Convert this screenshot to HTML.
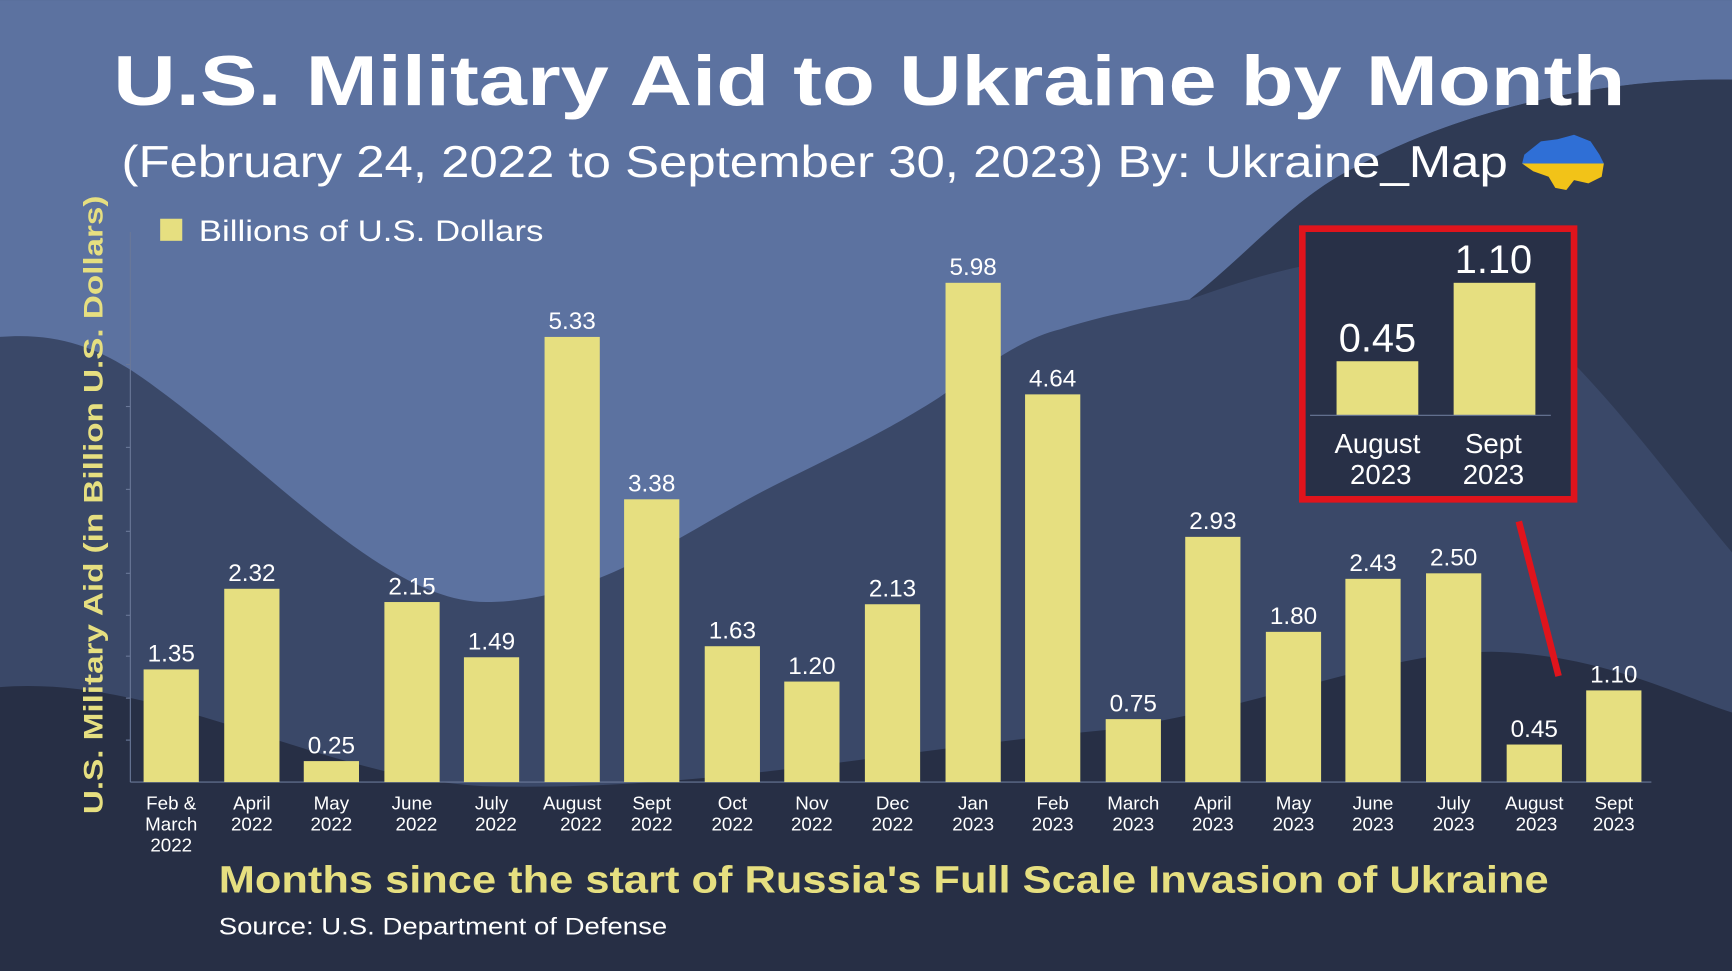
<!DOCTYPE html>
<html><head><meta charset="utf-8"><style>
html,body{margin:0;padding:0;background:#26304a;}
svg{display:block}
text{font-family:"Liberation Sans",sans-serif;}
</style></head><body>
<svg width="1732" height="971" viewBox="0 0 1568 879" xmlns="http://www.w3.org/2000/svg">
<rect width="1568" height="879" fill="#5c72a0"/>
<!-- mid layer -->
<path d="M0,305 C60,300 100,320 140,350 C250,430 350,545 440,545 C540,545 620,480 700,440 C760,410 800,392 850,360 C900,325 930,305 960,298 C1000,285 1040,278 1077,271 C1130,230 1170,180 1224,153 C1320,100 1450,70 1568,72 L1568,879 L0,879Z" fill="#3a4868"/>
<!-- top right dark -->
<path d="M1077,271 C1130,230 1170,180 1224,153 C1320,100 1450,70 1568,72 L1568,500 C1500,420 1420,300 1320,245 C1250,215 1150,245 1077,271Z" fill="#2f3a54"/>
<!-- bottom layer -->
<path d="M0,622 C150,610 300,710 450,712 C650,715 800,680 1000,661 C1150,640 1250,590 1350,590 C1450,592 1520,630 1568,645 L1568,879 L0,879Z" fill="#272f45"/>
<!-- title -->
<text x="787" y="95" text-anchor="middle" font-size="64" font-weight="bold" fill="#fff" textLength="1369" lengthAdjust="spacingAndGlyphs">U.S. Military Aid to Ukraine by Month</text>
<text x="110" y="160" font-size="40" fill="#fff" textLength="1255" lengthAdjust="spacingAndGlyphs">(February 24, 2022 to September 30, 2023)  By: Ukraine_Map</text>
<!-- flag -->
<path d="M1380,140 L1395,128 L1410,126 L1425,122 L1440,128 L1448,140 L1452,148 L1378,148Z" fill="#2f6fd6"/>
<path d="M1378,148 L1452,148 L1450,160 L1438,166 L1425,163 L1418,172 L1408,170 L1402,160 L1388,155Z" fill="#f2c318"/>
<!-- legend -->
<rect x="145" y="198" width="20" height="20" fill="#e6df80"/>
<text x="180" y="218" font-size="27" fill="#fff" textLength="312" lengthAdjust="spacingAndGlyphs">Billions of U.S. Dollars</text>
<!-- y axis -->
<line x1="118" y1="210" x2="118" y2="708" stroke="#6a7898" stroke-width="1"/>
<g stroke="#6a7898" stroke-width="1">
<line x1="114" y1="670" x2="118" y2="670"/><line x1="114" y1="632" x2="118" y2="632"/><line x1="114" y1="594" x2="118" y2="594"/><line x1="114" y1="557" x2="118" y2="557"/><line x1="114" y1="519" x2="118" y2="519"/><line x1="114" y1="481" x2="118" y2="481"/><line x1="114" y1="443" x2="118" y2="443"/><line x1="114" y1="405" x2="118" y2="405"/><line x1="114" y1="368" x2="118" y2="368"/><line x1="114" y1="330" x2="118" y2="330"/></g>
<line x1="118" y1="708" x2="1495" y2="708" stroke="#6a7898" stroke-width="1"/>
<text transform="translate(93,457) rotate(-90)" text-anchor="middle" font-size="24" font-weight="bold" fill="#e6df80" textLength="560" lengthAdjust="spacingAndGlyphs">U.S. Military Aid (in Billion U.S. Dollars)</text>
<!-- bars -->
<g fill="#e6df80">
<rect x="130" y="606" width="50" height="102"/>
<rect x="203" y="533" width="50" height="175"/>
<rect x="275" y="689" width="50" height="19"/>
<rect x="348" y="545" width="50" height="163"/>
<rect x="420" y="595" width="50" height="113"/>
<rect x="493" y="305" width="50" height="403"/>
<rect x="565" y="452" width="50" height="256"/>
<rect x="638" y="585" width="50" height="123"/>
<rect x="710" y="617" width="50" height="91"/>
<rect x="783" y="547" width="50" height="161"/>
<rect x="856" y="256" width="50" height="452"/>
<rect x="928" y="357" width="50" height="351"/>
<rect x="1001" y="651" width="50" height="57"/>
<rect x="1073" y="486" width="50" height="222"/>
<rect x="1146" y="572" width="50" height="136"/>
<rect x="1218" y="524" width="50" height="184"/>
<rect x="1291" y="519" width="50" height="189"/>
<rect x="1364" y="674" width="50" height="34"/>
<rect x="1436" y="625" width="50" height="83"/>
</g>
<g font-size="22" fill="#fff" text-anchor="middle">
<text x="155" y="599">1.35</text><text x="228" y="526">2.32</text><text x="300" y="682">0.25</text>
<text x="373" y="538">2.15</text><text x="445" y="588">1.49</text><text x="518" y="298">5.33</text>
<text x="590" y="445">3.38</text><text x="663" y="578">1.63</text><text x="735" y="610">1.20</text>
<text x="808" y="540">2.13</text><text x="881" y="249">5.98</text><text x="953" y="350">4.64</text>
<text x="1026" y="644">0.75</text><text x="1098" y="479">2.93</text><text x="1171" y="565">1.80</text>
<text x="1243" y="517">2.43</text><text x="1316" y="512">2.50</text><text x="1389" y="667">0.45</text>
<text x="1461" y="618">1.10</text>
</g>
<g font-size="17" fill="#fff" text-anchor="middle">
<text x="155" y="733">Feb &amp;</text><text x="155" y="752">March</text><text x="155" y="771">2022</text>
<text x="228" y="733">April</text><text x="228" y="752">2022</text>
<text x="300" y="733">May</text><text x="300" y="752">2022</text>
<text x="373" y="733">June</text><text x="377" y="752">2022</text>
<text x="445" y="733">July</text><text x="449" y="752">2022</text>
<text x="518" y="733">August</text><text x="526" y="752">2022</text>
<text x="590" y="733">Sept</text><text x="590" y="752">2022</text>
<text x="663" y="733">Oct</text><text x="663" y="752">2022</text>
<text x="735" y="733">Nov</text><text x="735" y="752">2022</text>
<text x="808" y="733">Dec</text><text x="808" y="752">2022</text>
<text x="881" y="733">Jan</text><text x="881" y="752">2023</text>
<text x="953" y="733">Feb</text><text x="953" y="752">2023</text>
<text x="1026" y="733">March</text><text x="1026" y="752">2023</text>
<text x="1098" y="733">April</text><text x="1098" y="752">2023</text>
<text x="1171" y="733">May</text><text x="1171" y="752">2023</text>
<text x="1243" y="733">June</text><text x="1243" y="752">2023</text>
<text x="1316" y="733">July</text><text x="1316" y="752">2023</text>
<text x="1389" y="733">August</text><text x="1391" y="752">2023</text>
<text x="1461" y="733">Sept</text><text x="1461" y="752">2023</text>
</g>
<text x="198" y="808" font-size="34" font-weight="bold" fill="#e6df80" textLength="1204" lengthAdjust="spacingAndGlyphs">Months since the start of Russia's Full Scale Invasion of Ukraine</text>
<text x="198" y="846" font-size="22" fill="#fff" textLength="406" lengthAdjust="spacingAndGlyphs">Source: U.S. Department of Defense</text>
<!-- inset -->
<rect x="1179" y="207" width="246" height="245" fill="#283047" stroke="#e0141c" stroke-width="6"/>
<rect x="1210" y="327" width="74" height="49" fill="#e6df80"/>
<rect x="1316" y="256" width="74" height="120" fill="#e6df80"/>
<line x1="1186" y1="376" x2="1404" y2="376" stroke="#6a7898" stroke-width="1"/>
<text x="1247" y="318" font-size="36" fill="#fff" text-anchor="middle">0.45</text>
<text x="1352" y="247" font-size="36" fill="#fff" text-anchor="middle">1.10</text>
<g font-size="25" fill="#fff" text-anchor="middle">
<text x="1247" y="410">August</text><text x="1250" y="438">2023</text>
<text x="1352" y="410">Sept</text><text x="1352" y="438">2023</text>
</g>
<line x1="1375" y1="472" x2="1411" y2="612" stroke="#e0141c" stroke-width="6"/>
</svg>
</body></html>
